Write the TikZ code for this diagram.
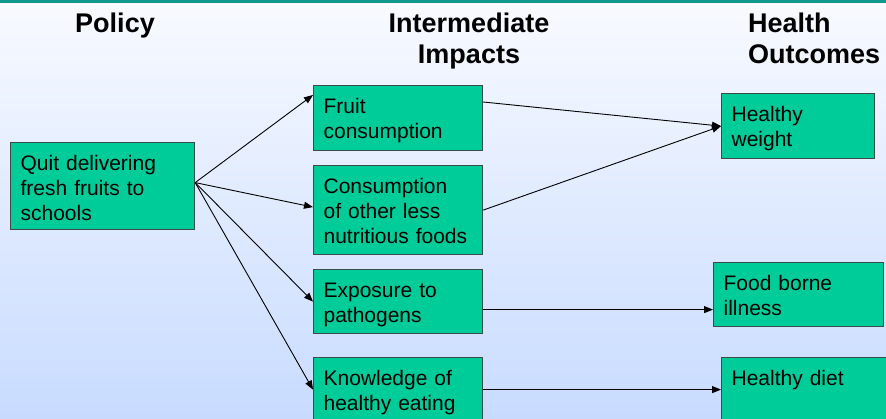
\documentclass[tikz,border=0pt]{standalone}
\usepackage{fontspec}
\setmainfont{Liberation Sans}
\usetikzlibrary{arrows.meta}
\definecolor{boxgreen}{HTML}{00CC99}
\definecolor{boxline}{HTML}{3C4A48}
\definecolor{topline}{HTML}{11998E}
\definecolor{bgtop}{HTML}{F8FAFF}
\definecolor{bgbot}{HTML}{C8DBFF}

\begin{document}
\begin{tikzpicture}[x=1pt,y=-1pt,
  box/.style 2 args={draw=boxline, line width=1.2pt, fill=boxgreen, anchor=north west,
    align=left, inner xsep=10pt, inner ysep=0pt, text width=#1, text height=28pt,
    text depth=#2, font=\fontsize{21}{25}\selectfont},
  head/.style={inner sep=0pt, text height=#1, font=\fontsize{27}{31}\selectfont\bfseries},
  head/.default=19.5pt,
  link/.style={-{Triangle[length=9pt,width=7pt]}, line width=0.9pt}]
\clip (0,0) rectangle (886,418);
\shade[top color=bgtop, bottom color=bgbot] (0,0) rectangle (886,418);
\fill[topline] (0,0) rectangle (886,3);
% column heads
\node[head, anchor=north] (policyhead) at (115,13) {Policy};
\node[head=50.5pt, anchor=north, align=center] (impacthead) at (469,13) {Intermediate\\Impacts};
\node[head=50.5pt, anchor=north west, align=left] (outcomehead) at (748,13) {Health\\Outcomes};
% boxes
\node[box={164pt}{59pt}] (policy) at (10,142) {Quit delivering\\fresh fruits to\\schools};
\node[box={149pt}{37pt}] (fruit) at (313,85) {Fruit\\consumption};
\node[box={149pt}{61pt}] (cons) at (313,165) {Consumption\\of other less\\nutritious foods};
\node[box={149pt}{36pt}] (expo) at (313,269) {Exposure to\\pathogens};
\node[box={149pt}{36pt}] (know) at (313,357) {Knowledge of\\healthy eating};
\node[box={133pt}{37pt}] (weight) at (721,93) {Healthy\\weight};
\node[box={150pt}{36pt}] (food) at (713,262) {Food borne\\illness};
\node[box={160pt}{36pt}] (diet) at (721,357) {Healthy diet};
% arrows
\coordinate (fork) at ([yshift=3.5pt]policy.east);
\draw[link] (fork) -- ([yshift=-10pt]fruit.north west);
\draw[link] (fork) -- ([yshift=3pt]cons.west);
\draw[link] (fork) -- (expo.west);
\draw[link] (fork) -- (know.west);
\draw[link] ([yshift=-17pt]fruit.north east) -- (weight.west);
\draw[link] (cons.east) -- (weight.west);
\draw[link] ([yshift=-8pt]expo.east) -- ([yshift=-8pt]expo.east -| food.west);
\draw[link] (know.east) -- (know.east -| diet.west);
\end{tikzpicture}
\end{document}
